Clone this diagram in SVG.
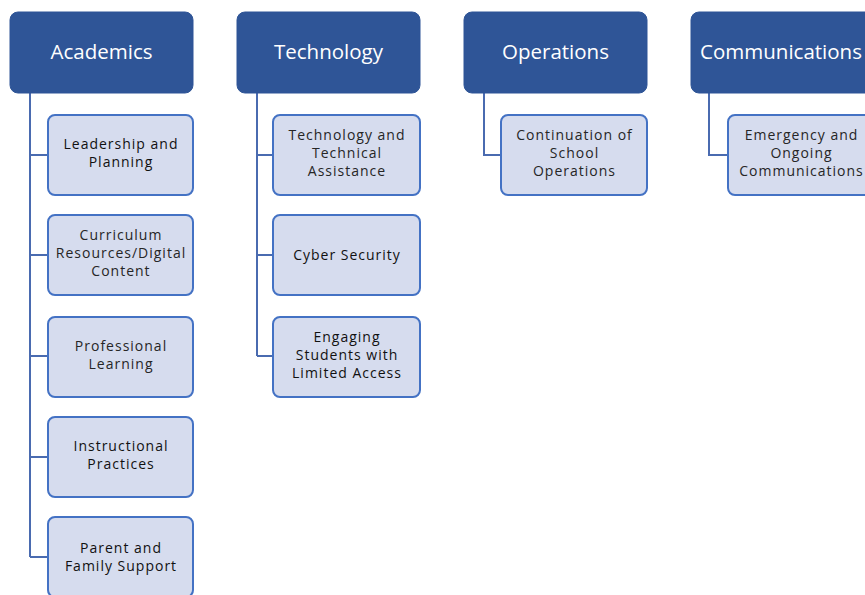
<svg xmlns="http://www.w3.org/2000/svg" width="865" height="595" viewBox="0 0 865 595">
<style>
.hdr{fill:#2F5597;stroke:#2F5597;stroke-width:1}
.hdrt{fill:#ffffff;font-family:"Open Sans","Liberation Sans",sans-serif;font-size:20.5px;text-anchor:middle}
.box{fill:#D6DCEE;stroke:#4472C4;stroke-width:2}
.boxt{fill:#262626;font-family:"Open Sans","Liberation Sans",sans-serif;font-size:14px;letter-spacing:1px;text-anchor:middle}
.dk{fill:#111111}
.conn{fill:none;stroke:#4A6BB0;stroke-width:2}
</style>
<rect width="865" height="595" fill="#ffffff"/>
<g id="connectors">
<path class="conn" d="M30 93 V557 M30 155 H48 M30 255 H48 M30 356 H48 M30 457 H48 M30 557 H48"/>
<path class="conn" d="M257 93 V356 M257 155 H273 M257 255 H273 M257 356 H273"/>
<path class="conn" d="M484 93 V155 H501"/>
<path class="conn" d="M709 93 V155 H728"/>
</g>
<g id="academics"><rect class="hdr" x="10" y="12" width="183" height="81" rx="8"/><text class="hdrt" x="101.5" y="59">Academics</text></g>
<g id="technology"><rect class="hdr" x="237" y="12" width="183" height="81" rx="8"/><text class="hdrt" x="328.5" y="59">Technology</text></g>
<g id="operations"><rect class="hdr" x="464" y="12" width="183" height="81" rx="8"/><text class="hdrt" x="555.5" y="59">Operations</text></g>
<g id="communications"><rect class="hdr" x="691" y="12" width="183" height="81" rx="8"/><text class="hdrt" x="781" y="59">Communications</text></g>

<g id="leadership"><rect class="box" x="48" y="115" width="145" height="80" rx="7"/><text class="boxt dk" x="121" y="149">Leadership and</text><text class="boxt dk" x="121" y="167">Planning</text></g>
<g id="curriculum"><rect class="box" x="48" y="215" width="145" height="80" rx="7"/><text class="boxt" x="121" y="240">Curriculum</text><text class="boxt" x="121" y="258">Resources/Digital</text><text class="boxt" x="121" y="276">Content</text></g>
<g id="professional"><rect class="box" x="48" y="317" width="145" height="80" rx="7"/><text class="boxt" x="121" y="351">Professional</text><text class="boxt" x="121" y="369">Learning</text></g>
<g id="instructional"><rect class="box" x="48" y="417" width="145" height="80" rx="7"/><text class="boxt dk" x="121" y="451">Instructional</text><text class="boxt dk" x="121" y="469">Practices</text></g>
<g id="parent"><rect class="box" x="48" y="517" width="145" height="80" rx="7"/><text class="boxt dk" x="121" y="553">Parent and</text><text class="boxt dk" x="121" y="571">Family Support</text></g>

<g id="techassist"><rect class="box" x="273" y="115" width="147" height="80" rx="7"/><text class="boxt" x="347" y="140">Technology and</text><text class="boxt" x="347" y="158">Technical</text><text class="boxt" x="347" y="176">Assistance</text></g>
<g id="cyber"><rect class="box" x="273" y="215" width="147" height="80" rx="7"/><text class="boxt dk" x="347" y="260">Cyber Security</text></g>
<g id="engaging"><rect class="box" x="273" y="317" width="147" height="80" rx="7"/><text class="boxt dk" x="347" y="342">Engaging</text><text class="boxt dk" x="347" y="360">Students with</text><text class="boxt dk" x="347" y="378">Limited Access</text></g>

<g id="continuation"><rect class="box" x="501" y="115" width="146" height="80" rx="7"/><text class="boxt" x="574.5" y="140">Continuation of</text><text class="boxt" x="574.5" y="158">School</text><text class="boxt" x="574.5" y="176">Operations</text></g>

<g id="emergency"><rect class="box" x="728" y="115" width="146" height="80" rx="7"/><text class="boxt" x="801.5" y="140">Emergency and</text><text class="boxt" x="801.5" y="158">Ongoing</text><text class="boxt" x="801.5" y="176">Communications</text></g>
</svg>
